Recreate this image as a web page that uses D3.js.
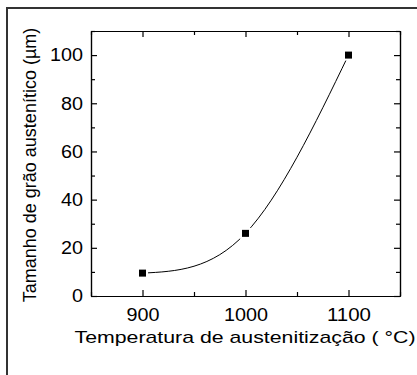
<!DOCTYPE html>
<html>
<head>
<meta charset="utf-8">
<script src="https://cdn.jsdelivr.net/npm/d3@7"></script>
<style>
  body { margin: 0; background: #fff; }
  text { font-family: "Liberation Sans", Arial, sans-serif; fill: #000; }
</style>
</head>
<body>
<svg id="chart" width="417" height="375"></svg>
<script>
const temperatures = [900, 1000, 1100];
const grainSizes = [9.5, 26, 100];
const xTicks = [900, 1000, 1100];
const xMinorTicks = [850, 950, 1050, 1150];
const yTicks = [0, 20, 40, 60, 80, 100];
const yMinorTicks = [10, 30, 50, 70, 90, 110];

const svg = d3.select("#chart");

const plotLeft = 91, plotRight = 400, plotTop = 31, plotBottom = 296;

const x = d3.scaleLinear().domain([850, 1150]).range([plotLeft, plotRight]);
const y = d3.scaleLinear().domain([0, 110]).range([plotBottom, plotTop]);

// outer frame (only top and left edges show)
svg.append("line")
    .attr("x1", 6).attr("x2", 417).attr("y1", 8).attr("y2", 8)
    .attr("stroke", "#333").attr("stroke-width", 2);
svg.append("line")
    .attr("x1", 7).attr("x2", 7).attr("y1", 7).attr("y2", 375)
    .attr("stroke", "#333").attr("stroke-width", 2);

// the source picture is a bit wider than tall, so stretch digits slightly
const styleAxis = g => {
    g.selectAll("path, line").attr("stroke", "#000").attr("stroke-width", 1.2);
    g.selectAll("text")
        .attr("font-size", "18px")
        .attr("lengthAdjust", "spacingAndGlyphs")
        .attr("textLength", function () { return this.textContent.length * 11; });
};

// bottom axis
svg.append("g")
    .attr("transform", `translate(0,${plotBottom})`)
    .call(d3.axisBottom(x).tickValues(xTicks).tickSizeInner(-6).tickSizeOuter(0).tickPadding(12.5).tickFormat(d3.format("d")))
    .call(styleAxis);
svg.append("g")
    .attr("transform", `translate(0,${plotBottom})`)
    .call(d3.axisBottom(x).tickValues(xMinorTicks).tickSizeInner(-4).tickSizeOuter(0).tickFormat(""))
    .call(styleAxis);

// top axis
svg.append("g")
    .attr("transform", `translate(0,${plotTop})`)
    .call(d3.axisTop(x).tickValues(xTicks).tickSizeInner(-6).tickSizeOuter(0).tickFormat(""))
    .call(styleAxis);
svg.append("g")
    .attr("transform", `translate(0,${plotTop})`)
    .call(d3.axisTop(x).tickValues(xMinorTicks).tickSizeInner(-4).tickSizeOuter(0).tickFormat(""))
    .call(styleAxis);

// left axis
svg.append("g")
    .attr("transform", `translate(${plotLeft},0)`)
    .call(d3.axisLeft(y).tickValues(yTicks).tickSizeInner(-6).tickSizeOuter(0).tickPadding(8))
    .call(styleAxis);
svg.append("g")
    .attr("transform", `translate(${plotLeft},0)`)
    .call(d3.axisLeft(y).tickValues(yMinorTicks).tickSizeInner(-4).tickSizeOuter(0).tickFormat(""))
    .call(styleAxis);

// right axis
svg.append("g")
    .attr("transform", `translate(${plotRight},0)`)
    .call(d3.axisRight(y).tickValues(yTicks).tickSizeInner(-6).tickSizeOuter(0).tickFormat(""))
    .call(styleAxis);
svg.append("g")
    .attr("transform", `translate(${plotRight},0)`)
    .call(d3.axisRight(y).tickValues(yMinorTicks).tickSizeInner(-4).tickSizeOuter(0).tickFormat(""))
    .call(styleAxis);

const points = temperatures.map((t, i) => ({ t: t, v: grainSizes[i] }));

// fitted curve
svg.append("path")
    .datum(points)
    .attr("fill", "none")
    .attr("stroke", "#000")
    .attr("stroke-width", 1)
    .attr("d", d3.line().x(d => x(d.t)).y(d => y(d.v)).curve(d3.curveNatural));

// markers with a small white gap round them
svg.selectAll(".halo")
    .data(points)
    .enter().append("rect")
        .attr("x", d => x(d.t) - 5.5)
        .attr("y", d => y(d.v) - 5.5)
        .attr("width", 11)
        .attr("height", 11)
        .attr("fill", "#fff");
svg.selectAll(".marker")
    .data(points)
    .enter().append("rect")
        .attr("x", d => x(d.t) - 3.5)
        .attr("y", d => y(d.v) - 3.5)
        .attr("width", 7)
        .attr("height", 7)
        .attr("fill", "#000");

// axis titles
svg.append("text")
    .attr("x", 245)
    .attr("y", 343)
    .attr("text-anchor", "middle")
    .attr("font-size", "17px")
    .attr("textLength", 341)
    .attr("lengthAdjust", "spacingAndGlyphs")
    .text("Temperatura de austenitização ( °C)");

svg.append("text")
    .attr("transform", "translate(36,165) rotate(-90)")
    .attr("text-anchor", "middle")
    .attr("font-size", "18px")
    .text("Tamanho de grão austenítico (µm)");
</script>
</body>
</html>
